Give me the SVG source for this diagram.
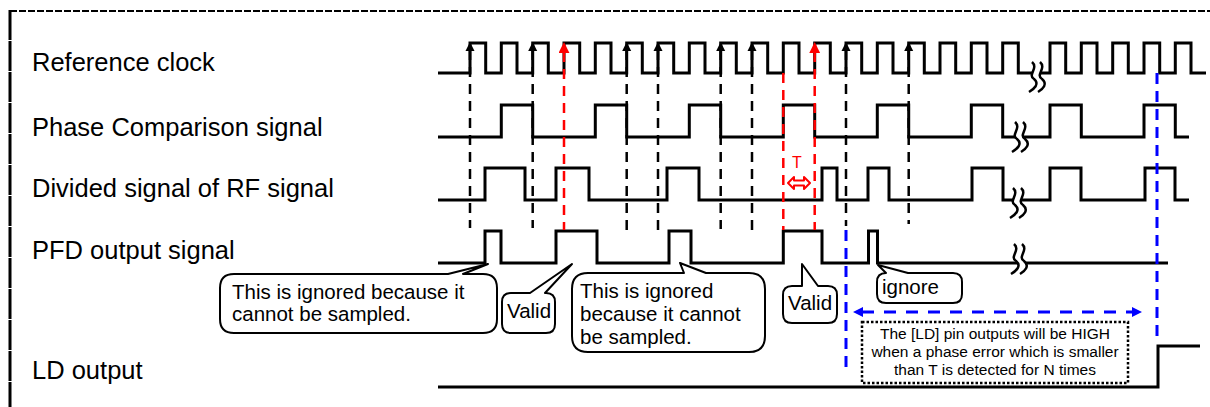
<svg xmlns="http://www.w3.org/2000/svg" width="1210" height="407" viewBox="0 0 1210 407">
<style>
.w{fill:none;stroke:#000;stroke-width:3;stroke-linejoin:miter;stroke-linecap:butt}
.dk{fill:none;stroke:#000;stroke-width:2.5;stroke-dasharray:10 7}
.dr{fill:none;stroke:#f00;stroke-width:2.5;stroke-dasharray:10 7}
.db{fill:none;stroke:#00f;stroke-width:3;stroke-dasharray:11 7}
.dbh{fill:none;stroke:#00f;stroke-width:3;stroke-dasharray:12 10}
.t{font-family:"Liberation Sans",Arial,sans-serif;fill:#000}
.lbl{font-size:25.5px}
.ct{font-size:20.5px}
.bx{font-size:15.5px}
.bub{fill:#fff;stroke:#000;stroke-width:2;stroke-linejoin:round}
.brkw{fill:#fff;stroke:none}
.brkl{fill:none;stroke:#000;stroke-width:2.5}
</style>
<defs>
<marker id="ak" viewBox="0 0 10 10" markerUnits="userSpaceOnUse" markerWidth="9" markerHeight="10" refX="1" refY="5" orient="auto-start-reverse"><path d="M0,0 L10,5 L0,10 Z" fill="#000"/></marker>
<marker id="ar" viewBox="0 0 10 10" markerUnits="userSpaceOnUse" markerWidth="11" markerHeight="11" refX="1" refY="5" orient="auto-start-reverse"><path d="M0,0 L10,5 L0,10 Z" fill="#f00"/></marker>
<marker id="ab" viewBox="0 0 10 10" markerUnits="userSpaceOnUse" markerWidth="10" markerHeight="10" refX="1" refY="5" orient="auto-start-reverse"><path d="M0,0 L10,5 L0,10 Z" fill="#00f"/></marker>
<g id="brk">
<path class="brkw" d="M-3,-15 C4,-9 -8,-2 -1,2 C5,7 -1,12 -6,15 L3,15 C8,12 13,7 7,2 C0,-2 12,-9 5,-15 Z"/>
<path class="brkl" d="M-3,-15 C4,-9 -8,-2 -1,2 C5,7 -1,12 -6,15 M5,-15 C12,-9 0,-2 7,2 C13,7 8,12 3,15"/>
</g>
</defs>
<rect width="1210" height="407" fill="#fff"/>
<g id="frame">
<line x1="10" y1="11" x2="1210" y2="11" stroke="#000" stroke-width="2" stroke-dasharray="7 2"/>
<line x1="10" y1="10" x2="10" y2="407" stroke="#000" stroke-width="3" stroke-dasharray="30 1"/>
</g>
<g id="labels" class="t lbl">
<text x="32" y="71">Reference clock</text>
<text x="32" y="136">Phase Comparison signal</text>
<text x="32" y="197">Divided signal of RF signal</text>
<text x="32" y="259">PFD output signal</text>
<text x="32" y="379">LD output</text>
</g>
<g id="ref-clock">
<path class="w" d="M438,73 H470 V43 H485.7 V73 H501.3 V43 H517 V73 H532.7 V43 H548.3 V73 H564 V43 H579.7 V73 H595.3 V43 H611 V73 H626.7 V43 H642.3 V73 H658 V43 H673.7 V73 H689.3 V43 H705 V73 H720.7 V43 H736.3 V73 H752 V43 H767.7 V73 H783.3 V43 H799 V73 H814.7 V43 H830.3 V73 H846 V43 H861.7 V73 H877.3 V43 H893 V73 H908.7 V43 H924.3 V73 H940 V43 H955.7 V73 H971.3 V43 H987 V73 H1002.7 V43 H1018.3 V73 H1050 V43 H1065.7 V73 H1081.3 V43 H1097 V73 H1112.7 V43 H1128.3 V73 H1144 V43 H1159.7 V73 H1175.3 V43 H1191 V73 H1206"/>
<use href="#brk" x="1035" y="77"/>
</g>
<g id="phase-comparison">
<path class="w" d="M438,137 H501.3 V105 H532.7 V137 H595.3 V105 H626.7 V137 H689.3 V105 H720.7 V137 H783.3 V105 H814.7 V137 H877.3 V105 H908.7 V137 H971.3 V105 H1002.7 V137 H1050 V105 H1081.3 V137 H1144 V105 H1175.3 V137 H1189"/>
<use href="#brk" x="1018" y="137"/>
</g>
<g id="divided-signal">
<path class="w" d="M438,200 H485 V168 H525 V200 H556 V168 H589 V200 H667 V168 H699 V200 H822 V168 H837 V200 H868 V168 H889 V200 H972 V168 H1003 V200 H1050 V168 H1081 V200 H1145 V168 H1175 V200 H1189"/>
<use href="#brk" x="1016" y="203"/>
</g>
<g id="pfd-output">
<path class="w" d="M438,263 H485 V231 H501 V263 H556 V231 H597 V263 H669 V231 H691 V263 H783.3 V231 H822 V263 H868.5 V231 H877.5 V263 H1168"/>
<use href="#brk" x="1017" y="259"/>
</g>
<g id="ld-output">
<path class="w" d="M438,387 H1158 V346 H1200"/>
</g>
<g id="connectors">
<path class="dk" marker-start="url(#ak)" d="M470,50 V228"/>
<path class="dk" marker-start="url(#ak)" d="M532.7,50 V228"/>
<path class="dk" marker-start="url(#ak)" d="M626.7,50 V230"/>
<path class="dk" marker-start="url(#ak)" d="M658,50 V232"/>
<path class="dk" marker-start="url(#ak)" d="M720.7,50 V229"/>
<path class="dk" marker-start="url(#ak)" d="M752,50 V231"/>
<path class="dk" marker-start="url(#ak)" d="M846,50 V226"/>
<path class="dk" marker-start="url(#ak)" d="M908.7,50 V224"/>
<path class="dr" marker-start="url(#ar)" d="M564,52 V230"/>
<path class="dr" d="M783.3,73 V230"/>
<path class="dr" marker-start="url(#ar)" d="M814.7,52 V230"/>
<path class="db" d="M846,230 V368"/>
<path class="db" d="M1157,73 V343"/>
<path class="dbh" marker-start="url(#ab)" marker-end="url(#ab)" d="M862,312 H1133"/>
</g>
<g id="t-mark">
<text class="t" x="797" y="168" font-size="16" text-anchor="middle" style="fill:#f00">T</text>
<path d="M788,183 L794,177 L794,180.5 L804,180.5 L804,177 L810,183 L804,189 L804,185.5 L794,185.5 L794,189 Z" fill="#fff" stroke="#f00" stroke-width="2" stroke-linejoin="round"/>
</g>
<g id="callout-ignored-1">
<path class="bub" d="M234,274 H448 L488,264 L463,274 H483 Q497,274 497,288 V319 Q497,333 483,333 H234 Q220,333 220,319 V288 Q220,274 234,274 Z"/>
<text class="t ct" x="232" y="299">This is ignored because it</text>
<text class="t ct" x="232" y="321">cannot be sampled.</text>
</g>
<g id="callout-valid-1">
<path class="bub" d="M511,293 H530 L572,264 L545,293 H546 Q555,293 555,302 V324 Q555,333 546,333 H511 Q502,333 502,324 V302 Q502,293 511,293 Z"/>
<text class="t ct" x="507" y="318">Valid</text>
</g>
<g id="callout-ignored-2">
<path class="bub" d="M588,273 H684 L680,263 L706,273 H749 Q765,273 765,289 V336 Q765,352 749,352 H588 Q572,352 572,336 V289 Q572,273 588,273 Z"/>
<text class="t ct" x="580" y="298">This is ignored</text>
<text class="t ct" x="580" y="321">because it cannot</text>
<text class="t ct" x="580" y="344">be sampled.</text>
</g>
<g id="callout-valid-2">
<path class="bub" d="M792,286 H802 L802,264 L818,286 H828 Q837,286 837,295 V314 Q837,323 828,323 H792 Q783,323 783,314 V295 Q783,286 792,286 Z"/>
<text class="t ct" x="788" y="310">Valid</text>
</g>
<g id="callout-ignore">
<path class="bub" d="M886,273 L878,265 L908,273 H953 Q962,273 962,282 V294 Q962,303 953,303 H886 Q877,303 877,294 V282 Q877,273 886,273 Z"/>
<text class="t ct" x="882" y="294">ignore</text>
</g>
<g id="ld-note">
<rect x="862" y="322" width="266" height="61" fill="#fff" stroke="#000" stroke-width="2.5" stroke-dasharray="2.5 2"/>
<text class="t bx" x="995" y="339" text-anchor="middle">The [LD] pin outputs will be HIGH</text>
<text class="t bx" x="995" y="357" text-anchor="middle">when a phase error which is smaller</text>
<text class="t bx" x="995" y="375" text-anchor="middle">than T is detected for N times</text>
</g>
</svg>
